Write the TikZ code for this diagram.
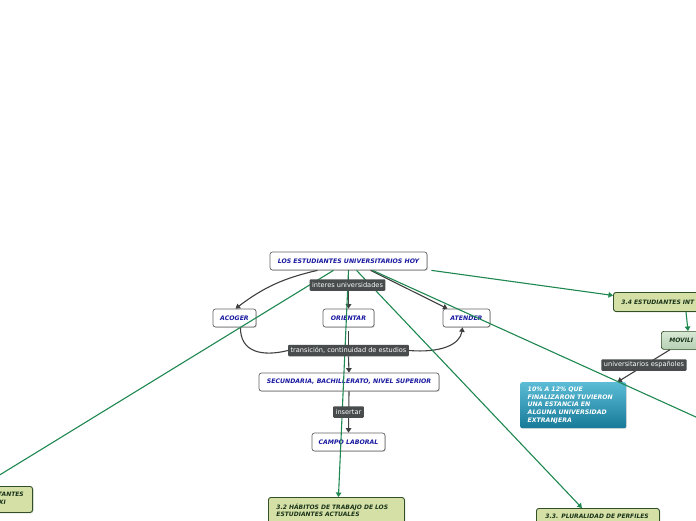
\documentclass[tikz,border=0pt]{standalone}
\usepackage{fontspec}
\setmainfont{DejaVu Sans}
\usetikzlibrary{shadows,arrows.meta}
\definecolor{nblue}{RGB}{24,24,160}
\definecolor{nborder}{RGB}{100,100,100}
\definecolor{lgray}{RGB}{64,64,64}
\definecolor{lblfill}{RGB}{72,76,76}
\definecolor{gline}{RGB}{30,136,80}
\definecolor{gfill}{RGB}{212,224,166}
\definecolor{gborder}{RGB}{50,80,40}
\definecolor{gtext}{RGB}{25,50,25}
\definecolor{mfillt}{RGB}{216,232,212}
\definecolor{mfillb}{RGB}{180,208,180}
\definecolor{btop}{RGB}{92,188,214}
\definecolor{bbot}{RGB}{22,122,152}
\pgfdeclarelayer{fg}
\pgfsetlayers{main,fg}
\tikzset{
  wnode/.style={draw=nborder, fill=white, rounded corners=2.5pt, line width=0.7pt,
    font=\fontsize{6.2}{7}\selectfont\bfseries\itshape, text=nblue, inner sep=0pt,
    minimum height=18pt,
    drop shadow={shadow xshift=0.8pt, shadow yshift=-0.8pt, opacity=0.35}},
  gnode/.style={draw=gborder, fill=gfill, rounded corners=2.5pt, line width=0.9pt,
    font=\fontsize{6}{7.8}\selectfont\bfseries\itshape, text=gtext, inner sep=0pt,
    drop shadow={shadow xshift=0.8pt, shadow yshift=-0.8pt, opacity=0.35}},
  mnode/.style={draw=gborder, top color=mfillt, bottom color=mfillb, rounded corners=2.5pt,
    line width=0.7pt, font=\fontsize{6}{7}\selectfont\bfseries\itshape, text=gtext,
    inner sep=0pt, drop shadow={shadow xshift=0.8pt, shadow yshift=-0.8pt, opacity=0.35}},
  bnode/.style={top color=btop, bottom color=bbot, rounded corners=2pt,
    font=\fontsize{6.2}{7.6}\selectfont\bfseries\itshape, text=white, inner sep=0pt,
    drop shadow={shadow xshift=0.6pt, shadow yshift=-0.6pt, opacity=0.25}},
  lbl/.style={fill=lblfill, rounded corners=1pt, text=white,
    font=\fontsize{6.6}{7}\selectfont, inner xsep=2.5pt, inner ysep=0pt, minimum height=11.5pt},
  garrow/.style={draw=lgray, line width=1.1pt, -{Triangle[width=5.5pt,length=4.5pt]}},
  gline/.style={draw=lgray, line width=1.1pt},
  grarrow/.style={draw=gline, line width=1.1pt, -{Triangle[width=5.5pt,length=4.5pt]}},
}
\begin{document}
\begin{tikzpicture}[x=1pt,y=-1pt]
\useasboundingbox (0,0) rectangle (696,520);
\clip (0,0) rectangle (696,520);
\fill[white] (0,0) rectangle (696,520);

% main nodes
\node[wnode, minimum width=157pt] (main) at (348.5,261) {LOS ESTUDIANTES UNIVERSITARIOS HOY};
\node[wnode, minimum width=43pt] (acoger) at (234.5,318) {ACOGER};
\node[wnode, minimum width=51pt] (orient) at (348.5,318) {ORIENTAR};
\node[wnode, minimum width=47pt] (atender) at (466.5,318) {ATENDER};
\node[wnode, minimum width=180pt] (secund) at (349,382) {SECUNDARIA, BACHILLERATO, NIVEL SUPERIOR};
\node[wnode, minimum width=73pt] (campo) at (348.5,442) {CAMPO LABORAL};

% green nodes
\node[gnode, anchor=north west, minimum width=120pt, minimum height=19pt, text width=104pt,
  align=left, inner xsep=8pt] (n34) at (613,292) {3.4 ESTUDIANTES INT};
\node[mnode, anchor=north west, minimum width=60pt, minimum height=18pt, text width=50pt,
  align=left, inner xsep=8pt] (movil) at (661,331) {MOVILI};
\node[gnode, anchor=north west, minimum width=135pt, minimum height=26pt, text width=120pt,
  align=left, inner xsep=8pt, inner ysep=2pt] (n32) at (268,497)
  {3.2 HÁBITOS DE TRABAJO DE LOS\\[-0.6pt]ESTUDIANTES ACTUALES};
\node[gnode, anchor=north west, minimum width=121pt, minimum height=16pt, text width=105pt,
  align=left, inner xsep=9pt, inner ysep=2pt] (n33) at (536,508)
  {3.3. PLURALIDAD DE PERFILES};
\node[gnode, anchor=north east, minimum width=60pt, minimum height=26pt] (n31) at (33,486) {};
\node[anchor=east, inner sep=0pt, font=\fontsize{6}{7}\selectfont\bfseries\itshape, text=gtext]
  (n31a) at (24,494) {TANTES};
\node[anchor=east, inner sep=0pt, font=\fontsize{6}{7}\selectfont\bfseries\itshape, text=gtext]
  (n31b) at (6,502) {XI};

% blue box
\node[bnode, anchor=north west, minimum width=106pt, minimum height=46pt, text width=91pt,
  align=left, inner xsep=7.5pt] (blue) at (520,382)
  {10\% A 12\% QUE\\FINALIZARON TUVIERON\\UNA ESTANCIA EN\\ALGUNA UNIVERSIDAD\\EXTRANJERA};

% labels (top layer)
\begin{pgfonlayer}{fg}
\node[lbl] (l1) at (347.5,285) {interes universidades};
\node[lbl] (l2) at (348.5,350.5) {transición, continuidad de estudios};
\node[lbl] (l3) at (348.5,412) {insertar};
\node[lbl] (l4) at (644,365) {universitarios españoles};
\end{pgfonlayer}

% off-canvas targets
\coordinate (offr) at (740,437);
\coordinate (offl) at (-20,487);

% gray connectors
\draw[garrow] ([xshift=-31pt]main.south) to[bend right=12] ([xshift=1pt]acoger.north);
\draw[garrow] (main.south) -- (orient.north);
\draw[garrow] ([xshift=22pt]main.south) -- ([xshift=-19pt]atender.north);
\draw[gline] ([xshift=6pt]acoger.south) .. controls (240,352) and (262,357) .. (l2.west);
\draw[garrow] (l2.east) .. controls (440,353) and (460,345) .. ([xshift=-4pt]atender.south);
\draw[gline] ([yshift=-4pt]orient.south) -- (l2.north);
\draw[garrow] (l2.south) -- (secund.north);
\draw[garrow] (secund.south) -- (campo.north);
\draw[garrow] ([xshift=9pt]movil.south west) -- ([xshift=-9pt]blue.north east);

% green connectors
\draw[grarrow] ([xshift=-15pt]main.south) -- (offl);
\draw[grarrow] (main.south) -- ([xshift=2pt]n32.north);
\draw[grarrow] ([xshift=8pt]main.south) -- ([xshift=-16pt]n33.north);
\draw[grarrow] ([xshift=24pt]main.south) -- (offr);
\draw[grarrow] ([xshift=4pt]main.south east) -- ([yshift=6.5pt]n34.west);
\draw[grarrow] ([xshift=73pt]n34.south west) -- ([xshift=27pt]movil.north west);
\end{tikzpicture}
\end{document}
